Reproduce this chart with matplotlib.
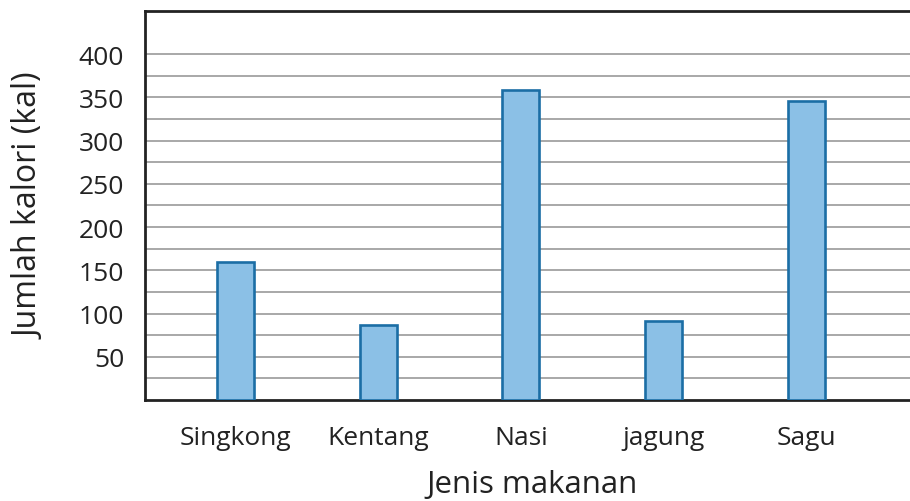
import matplotlib.pyplot as plt
import numpy as np

plt.rcParams["font.family"] = ["Open Sans", "DejaVu Sans"]

FOODS = ["Singkong", "Kentang", "Nasi", "jagung", "Sagu"]
CALORIES = [160, 87, 359, 91, 346]
Y_TICKS = [50, 100, 150, 200, 250, 300, 350, 400]
Y_GRID = [25, 75, 125, 175, 225, 275, 325, 375]

BAR_FILL = "#8bc0e6"
BAR_EDGE = "#1b6ea5"
GRID_COLOR = "#9a9a9a"
SPINE_COLOR = "#222222"
TEXT_COLOR = "#222222"


def main():
    fig = plt.figure(figsize=(9.10, 5.02), dpi=100)
    ax = fig.add_axes([0.1593, 0.2012, 0.8507, 0.7749])

    x = np.arange(len(FOODS))
    ax.bar(
        x,
        CALORIES,
        width=0.26,
        color=BAR_FILL,
        edgecolor=BAR_EDGE,
        linewidth=1.9,
        zorder=3,
    )

    ax.set_xlim(-0.636, 4.792)
    ax.set_ylim(0, 450)

    ax.set_yticks(Y_TICKS)
    ax.set_yticks(Y_GRID, minor=True)
    ax.set_yticklabels([str(v) for v in Y_TICKS])
    ax.grid(True, axis="y", which="both", color=GRID_COLOR, linewidth=1.2, zorder=0)

    ax.set_xticks(x)
    ax.set_xticklabels(FOODS)

    ax.tick_params(axis="y", which="both", length=0, pad=15, labelsize=19,
                   labelcolor=TEXT_COLOR)
    ax.tick_params(axis="x", length=0, pad=18, labelsize=19, labelcolor=TEXT_COLOR)

    for side in ["left", "top", "bottom"]:
        ax.spines[side].set_color(SPINE_COLOR)
        ax.spines[side].set_linewidth(2.0)
    ax.spines["right"].set_visible(False)

    ax.set_xlabel("Jenis makanan", fontsize=22.5, color=TEXT_COLOR, labelpad=14)
    ax.set_ylabel("Jumlah kalori (kal)", fontsize=23, color=TEXT_COLOR, labelpad=23)

    fig.savefig("out.png", dpi=100)
    plt.close(fig)


if __name__ == "__main__":
    main()
